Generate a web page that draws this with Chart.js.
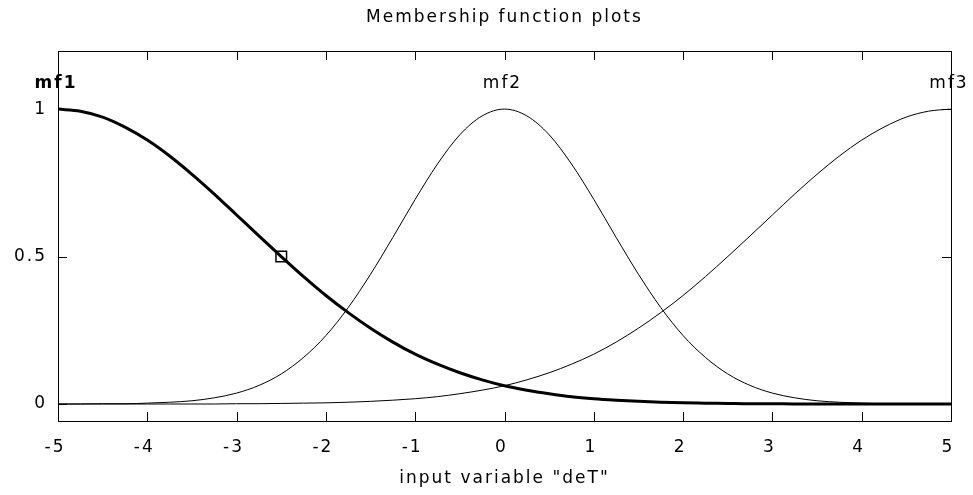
<!DOCTYPE html>
<html>
<head>
<meta charset="utf-8">
<title>Membership function plots</title>
<script src="https://cdn.jsdelivr.net/npm/chart.js@4/dist/chart.umd.min.js"></script>
<style>
    html, body { margin: 0; padding: 0; background: #ffffff; }
    #wrap { width: 973px; height: 495px; }
</style>
</head>
<body>
<div id="wrap"><canvas id="grafico" width="973" height="495"></canvas></div>
<script>
"use strict";

// valores (x de -5 a 5, paso 0.25)
const xs = [
    -5, -4.75, -4.5, -4.25, -4, -3.75, -3.5, -3.25, -3, -2.75,
    -2.5, -2.25, -2, -1.75, -1.5, -1.25, -1, -0.75, -0.5, -0.25,
    0, 0.25, 0.5, 0.75, 1, 1.25, 1.5, 1.75, 2, 2.25,
    2.5, 2.75, 3, 3.25, 3.5, 3.75, 4, 4.25, 4.5, 4.75, 5
];

const mf1 = [
    1, 0.993, 0.973, 0.939, 0.895, 0.841, 0.779, 0.712, 0.641, 0.570,
    0.500, 0.432, 0.368, 0.310, 0.257, 0.210, 0.169, 0.135, 0.106, 0.082,
    0.062, 0.047, 0.035, 0.025, 0.018, 0.013, 0.009, 0.006, 0.004, 0.003,
    0.002, 0.001, 0.001, 0, 0, 0, 0, 0, 0, 0, 0
];

const mf2 = [
    0, 0, 0.001, 0.001, 0.003, 0.006, 0.011, 0.021, 0.037, 0.063,
    0.102, 0.158, 0.232, 0.327, 0.440, 0.565, 0.694, 0.814, 0.913, 0.977,
    1, 0.977, 0.913, 0.814, 0.694, 0.565, 0.440, 0.327, 0.232, 0.158,
    0.102, 0.063, 0.037, 0.021, 0.011, 0.006, 0.003, 0.001, 0.001, 0, 0
];

const mf3 = [
    0, 0, 0, 0, 0, 0, 0, 0, 0.001, 0.001,
    0.002, 0.003, 0.004, 0.006, 0.009, 0.013, 0.018, 0.025, 0.035, 0.047,
    0.062, 0.082, 0.106, 0.135, 0.169, 0.210, 0.257, 0.310, 0.368, 0.432,
    0.500, 0.570, 0.641, 0.712, 0.779, 0.841, 0.895, 0.939, 0.973, 0.993, 1
];

const mfNames = ["mf1", "mf2", "mf3"];
const mfPeaks = [-5, 0, 5];
const mfLabelY = 1.088;

// marcador del mf seleccionado
const marker = [{ x: -2.5, y: 0.5 }];

const xTicks = [-5, -4, -3, -2, -1, 0, 1, 2, 3, 4, 5];
const yTicks = [0, 0.5, 1];

const fuente = "'DejaVu Sans', Verdana, sans-serif";
const tam = 17;

function puntos(ys) {
    return xs.map(function (x, i) { return { x: x, y: ys[i] }; });
}

// texto mas ancho, como la fuente de mapa de bits del original,
// y titulo centrado sobre el area del grafico
const espaciado = {

    id: "espaciado",

    afterLayout(chart) {
        if (chart.titleBlock) {
            chart.titleBlock.left = chart.chartArea.left;
            chart.titleBlock.right = chart.chartArea.right;
        }
    },

    beforeDraw(chart) {
        chart.ctx.letterSpacing = "2px";
    }

};

// marco negro, ticks hacia adentro y etiquetas mf
const marcoPlugin = {

    id: "marco",

    afterDatasetsDraw(chart) {

        const ctx = chart.ctx;
        const a = chart.chartArea;
        const sx = chart.scales.x;
        const sy = chart.scales.y;
        const largo = 9;

        ctx.save();
        ctx.strokeStyle = "#000000";
        ctx.lineWidth = 1;

        ctx.strokeRect(Math.round(a.left) + 0.5, Math.round(a.top) + 0.5,
            Math.round(a.right - a.left), Math.round(a.bottom - a.top));

        ctx.beginPath();

        xTicks.forEach(function (v) {
            const px = Math.round(sx.getPixelForValue(v)) + 0.5;
            ctx.moveTo(px, a.bottom);
            ctx.lineTo(px, a.bottom - largo);
            ctx.moveTo(px, a.top);
            ctx.lineTo(px, a.top + largo);
        });

        yTicks.forEach(function (v) {
            const py = Math.round(sy.getPixelForValue(v)) + 0.5;
            ctx.moveTo(a.left, py);
            ctx.lineTo(a.left + largo, py);
            ctx.moveTo(a.right, py);
            ctx.lineTo(a.right - largo, py);
        });

        ctx.stroke();

        ctx.fillStyle = "#000000";
        ctx.textAlign = "center";
        ctx.textBaseline = "middle";
        ctx.letterSpacing = "2px";

        mfNames.forEach(function (nombre, i) {
            ctx.font = (i === 0 ? "bold " : "") + tam + "px " + fuente;
            ctx.fillText(nombre, sx.getPixelForValue(mfPeaks[i]) - 2, sy.getPixelForValue(mfLabelY));
        });

        ctx.restore();

    }

};

const canvas = document.getElementById("grafico");

new Chart(canvas, {

    type: "line",

    data: {

        datasets: [
            {
                label: mfNames[0],
                data: puntos(mf1),
                borderColor: "#000000",
                borderWidth: 3,
                pointRadius: 0,
                cubicInterpolationMode: "monotone"
            },
            {
                label: mfNames[1],
                data: puntos(mf2),
                borderColor: "#000000",
                borderWidth: 1,
                pointRadius: 0,
                cubicInterpolationMode: "monotone"
            },
            {
                label: mfNames[2],
                data: puntos(mf3),
                borderColor: "#000000",
                borderWidth: 1,
                pointRadius: 0,
                cubicInterpolationMode: "monotone"
            },
            {
                type: "scatter",
                label: "sel",
                data: marker,
                pointStyle: "rect",
                pointRadius: 7.5,
                borderColor: "#000000",
                borderWidth: 1.5,
                backgroundColor: "rgba(0,0,0,0)",
                showLine: false
            }
        ]

    },

    options: {

        responsive: false,
        animation: false,
        events: [],

        layout: {
            padding: { left: 0, right: 22, top: 0, bottom: 0 }
        },

        plugins: {

            legend: { display: false },
            tooltip: { enabled: false },

            title: {
                display: true,
                text: "Membership function plots",
                color: "#000000",
                font: { family: fuente, size: tam, weight: "normal" },
                padding: { top: 7, bottom: 23.6 }
            }

        },

        scales: {

            x: {
                type: "linear",
                min: -5,
                max: 5,
                grid: { display: false, drawTicks: false },
                border: { display: false },
                afterBuildTicks: function (s) {
                    s.ticks = xTicks.map(function (v) { return { value: v }; });
                },
                afterFit: function (s) { s.height = 74; },
                ticks: {
                    color: "#000000",
                    padding: 16,
                    maxRotation: 0,
                    labelOffset: -3,
                    font: { family: fuente, size: tam }
                },
                title: {
                    display: true,
                    text: "input variable \"deT\"",
                    color: "#000000",
                    font: { family: fuente, size: tam },
                    padding: { top: 0, bottom: 6 }
                }
            },

            y: {
                type: "linear",
                min: -0.0576,
                max: 1.197,
                grid: { display: false, drawTicks: false },
                border: { display: false },
                afterBuildTicks: function (s) {
                    s.ticks = yTicks.map(function (v) { return { value: v }; });
                },
                afterFit: function (s) { s.width = 58; },
                ticks: {
                    color: "#000000",
                    padding: 11,
                    font: { family: fuente, size: tam },
                    callback: function (v) { return String(v); }
                }
            }

        }

    },

    plugins: [espaciado, marcoPlugin]

});
</script>
</body>
</html>
